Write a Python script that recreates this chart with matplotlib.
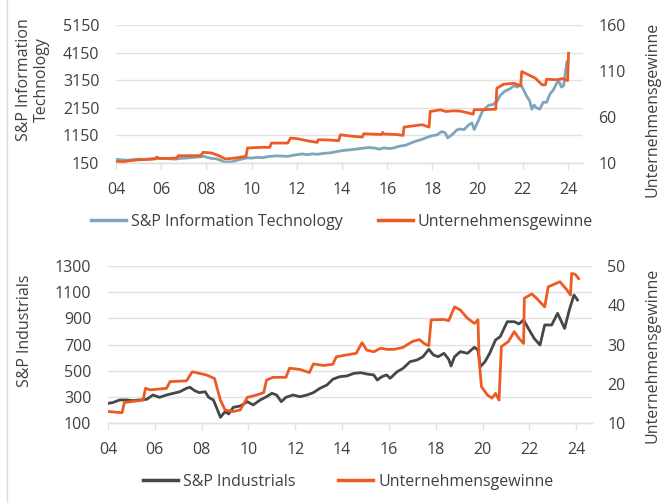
import matplotlib
matplotlib.use('Agg')
import matplotlib.pyplot as plt
from matplotlib.lines import Line2D

plt.rcParams['font.family'] = ['Open Sans', 'DejaVu Sans']

# ---------------- data ----------------
x_ticks = [2004, 2006, 2008, 2010, 2012, 2014, 2016, 2018, 2020, 2022, 2024]
x_labels = ['04', '06', '08', '10', '12', '14', '16', '18', '20', '22', '24']

it_yticks = [150, 1150, 2150, 3150, 4150, 5150]
prof1_yticks = [10, 60, 110, 160]
ind_yticks = [100, 300, 500, 700, 900, 1100, 1300]
prof2_yticks = [10, 20, 30, 40, 50]

# S&P Information Technology (left axis, top chart)
it_dates = [2004.0, 2004.25, 2004.5, 2004.75, 2005.0, 2005.25, 2005.5, 2005.75, 2006.0, 2006.35,
            2006.6, 2006.9, 2007.2, 2007.45, 2007.7, 2007.9, 2008.05, 2008.2, 2008.45, 2008.65,
            2008.8, 2009.0, 2009.15, 2009.4, 2009.6, 2009.8, 2010.0, 2010.3, 2010.5, 2010.7,
            2010.9, 2011.1, 2011.35, 2011.6, 2011.8, 2012.0, 2012.25, 2012.45, 2012.7, 2012.9,
            2013.2, 2013.5, 2013.8, 2014.1, 2014.4, 2014.7, 2014.95, 2015.2, 2015.45, 2015.65,
            2015.85, 2016.1, 2016.3, 2016.55, 2016.8, 2017.0, 2017.3, 2017.55, 2017.8, 2017.95,
            2018.2, 2018.42, 2018.57, 2018.67, 2018.86, 2019.08, 2019.23, 2019.4, 2019.6, 2019.75,
            2019.85, 2020.05, 2020.2, 2020.35, 2020.5, 2020.65, 2020.85, 2021.0, 2021.2, 2021.45,
            2021.6, 2021.75, 2021.9, 2022.0, 2022.15, 2022.3, 2022.4, 2022.5, 2022.6, 2022.75,
            2022.9, 2023.05, 2023.2, 2023.35, 2023.5, 2023.6, 2023.7, 2023.8, 2023.95]
it_values = [280, 265, 250, 270, 290, 280, 300, 315, 320, 305,
             290, 320, 335, 355, 370, 390, 350, 320, 300, 240,
             175, 185, 200, 260, 300, 335, 330, 355, 340, 380,
             395, 410, 400, 390, 425, 450, 480, 450, 480, 465,
             500, 520, 570, 610, 630, 660, 690, 710, 690, 650,
             700, 670, 700, 760, 790, 860, 950, 1010, 1090, 1130,
             1170, 1290, 1240, 1060, 1170, 1350, 1380, 1360, 1530, 1600,
             1360, 1720, 2010, 2140, 2250, 2260, 2380, 2600, 2750, 2850,
             2950, 2900, 3000, 2850, 2600, 2400, 2100, 2250, 2150, 2100,
             2350, 2350, 2650, 2800, 3050, 3100, 2900, 2950, 3820]

# Unternehmensgewinne (right axis, top chart)
prof1_dates = [2004.0, 2004.3, 2004.6, 2005.0, 2005.5, 2005.75, 2005.8, 2005.9, 2006.3, 2006.7,
               2006.75, 2007.3, 2007.75, 2007.85, 2008.2, 2008.5, 2008.85, 2009.3, 2009.75, 2009.82,
               2010.4, 2010.8, 2010.88, 2011.6, 2011.72, 2012.0, 2012.5, 2012.9, 2012.95, 2013.4,
               2013.85, 2013.93, 2014.4, 2014.9, 2014.96, 2015.5, 2015.75, 2015.8, 2015.85, 2016.4,
               2016.7, 2016.74, 2017.2, 2017.55, 2017.85, 2017.9, 2018.35, 2018.6, 2018.9, 2019.2,
               2019.5, 2019.8, 2019.85, 2020.3, 2020.8, 2020.85, 2021.15, 2021.6, 2021.9, 2021.95,
               2022.1, 2022.55, 2022.85, 2023.0, 2023.05, 2023.5, 2023.75, 2023.98, 2024.02]
prof1_values = [11.8, 11.1, 12.5, 13.5, 14.0, 14.5, 16.5, 15.0, 15.0, 15.5,
                17.9, 17.9, 18.0, 21.6, 21.0, 18.5, 14.3, 15.5, 17.2, 26.3,
                27.0, 27.0, 31.7, 31.7, 37.1, 36.5, 34.0, 32.4, 35.3, 35.0,
                34.3, 40.7, 39.2, 38.2, 41.8, 41.2, 41.0, 43.2, 41.5, 41.0,
                40.0, 49.0, 50.5, 51.6, 49.0, 66.0, 67.8, 66.0, 66.7, 66.5,
                64.9, 63.1, 68.0, 68.0, 68.5, 91.3, 95.6, 96.7, 93.8, 109.4,
                107.6, 102.2, 95.0, 95.0, 101.1, 100.4, 101.8, 99.6, 129.3]

# S&P Industrials (left axis, bottom chart)
ind_dates = [2004.0, 2004.2, 2004.5, 2004.8, 2005.07, 2005.35, 2005.65, 2005.92, 2006.2, 2006.5,
             2006.8, 2007.07, 2007.35, 2007.5, 2007.7, 2007.9, 2008.15, 2008.3, 2008.5, 2008.65,
             2008.8, 2009.0, 2009.15, 2009.35, 2009.65, 2009.95, 2010.2, 2010.5, 2010.77, 2011.0,
             2011.2, 2011.4, 2011.6, 2011.9, 2012.2, 2012.5, 2012.77, 2013.05, 2013.35, 2013.6,
             2013.9, 2014.2, 2014.5, 2014.8, 2015.05, 2015.35, 2015.5, 2015.7, 2015.9, 2016.05,
             2016.35, 2016.6, 2016.9, 2017.2, 2017.45, 2017.7, 2017.9, 2018.1, 2018.35, 2018.55,
             2018.65, 2018.8, 2019.05, 2019.35, 2019.65, 2019.8, 2019.9, 2020.1, 2020.3, 2020.55,
             2020.75, 2021.05, 2021.35, 2021.55, 2021.75, 2021.95, 2022.2, 2022.45, 2022.65, 2022.95,
             2023.2, 2023.5, 2023.7, 2023.9, 2024.05]
ind_values = [252, 258, 278, 278, 273, 278, 283, 316, 298, 316,
              329, 341, 367, 375, 349, 334, 341, 298, 278, 214,
              146, 189, 171, 222, 232, 265, 240, 278, 303, 329,
              316, 265, 298, 316, 303, 316, 334, 367, 392, 436,
              456, 461, 481, 486, 476, 469, 430, 456, 469, 443,
              494, 519, 570, 583, 608, 664, 621, 608, 634, 588,
              537, 608, 647, 634, 680, 659, 532, 570, 634, 736,
              761, 875, 875, 858, 888, 824, 748, 697, 850, 850,
              939, 824, 964, 1079, 1041]

# Unternehmensgewinne (right axis, bottom chart)
prof2_dates = [2004.0, 2004.6, 2004.7, 2005.5, 2005.6, 2005.8, 2006.5, 2006.65, 2007.35, 2007.6,
               2008.2, 2008.55, 2008.8, 2009.0, 2009.35, 2009.65, 2009.95, 2010.35, 2010.65, 2010.77,
               2011.05, 2011.6, 2011.75, 2012.2, 2012.6, 2012.77, 2013.2, 2013.6, 2013.75, 2014.2,
               2014.6, 2014.85, 2015.05, 2015.35, 2015.65, 2015.9, 2016.2, 2016.6, 2017.0, 2017.3,
               2017.5, 2017.7, 2017.8, 2018.35, 2018.55, 2018.8, 2019.05, 2019.35, 2019.65, 2019.8,
               2019.85, 2019.95, 2020.2, 2020.4, 2020.55, 2020.7, 2020.8, 2021.1, 2021.35, 2021.55,
               2021.75, 2021.78, 2022.1, 2022.3, 2022.65, 2022.8, 2023.3, 2023.6, 2023.75, 2023.8,
               2023.95, 2024.1]
prof2_values = [13.0, 12.7, 15.3, 15.9, 18.9, 18.5, 18.9, 20.6, 20.8, 23.1,
                22.3, 21.4, 15.9, 13.4, 13.0, 13.4, 16.6, 17.2, 17.8, 21.0,
                21.7, 21.7, 24.0, 23.7, 22.9, 25.1, 24.7, 25.0, 26.9, 27.4,
                27.8, 30.5, 28.6, 28.2, 29.1, 28.8, 28.8, 29.3, 30.8, 31.3,
                30.3, 29.7, 36.3, 36.4, 36.1, 39.6, 38.8, 36.7, 35.4, 36.3,
                26.1, 19.3, 17.2, 16.4, 17.6, 15.9, 29.5, 30.8, 33.3, 31.6,
                30.3, 41.8, 42.9, 41.8, 39.6, 44.7, 46.0, 43.9, 42.6, 48.1,
                47.9, 46.8]

# ---------------- style ----------------
FS = 11.5
TXT = '#404040'
GRID = '#e2e2e2'
BLUE = '#7ea6bb'
ORANGE = '#ee5a24'
DARK = '#474747'
LW = 2.0
W, H = 663, 503

fig = plt.figure(figsize=(W / 100, H / 100), dpi=100)


def style(ax, axr, xmax):
    ax.set_xlim(2004, xmax)
    ax.set_xticks(x_ticks)
    ax.set_xticklabels(x_labels)
    for a in (ax, axr):
        for s in ('top', 'left', 'right'):
            a.spines[s].set_visible(False)
        a.spines['bottom'].set_color(GRID)
        a.spines['bottom'].set_linewidth(1)
    ax.yaxis.grid(True, color=GRID, lw=1)
    ax.set_axisbelow(True)
    ax.tick_params(axis='x', length=5, width=1, color=GRID, pad=8.5,
                   labelsize=FS, labelcolor=TXT)
    ax.tick_params(axis='y', length=0, pad=12, labelsize=FS, labelcolor=TXT)
    axr.tick_params(axis='y', length=0, pad=11, labelsize=FS, labelcolor=TXT)


# Top chart
ax1 = fig.add_axes([116 / W, 1 - 163 / H, 467 / W, 138 / H])
ax1r = ax1.twinx()
ax1.plot(it_dates, it_values, color=BLUE, lw=LW, solid_joinstyle='round')
ax1r.plot(prof1_dates, prof1_values, color=ORANGE, lw=LW, solid_joinstyle='round')
ax1.set_ylim(150, 5150)
ax1.set_yticks(it_yticks)
ax1r.set_ylim(10, 160)
ax1r.set_yticks(prof1_yticks)
style(ax1, ax1r, 2024.66)

# Bottom chart
ax2 = fig.add_axes([108 / W, 1 - 423.3 / H, 484 / W, 157.3 / H])
ax2r = ax2.twinx()
ax2.plot(ind_dates, ind_values, color=DARK, lw=LW, solid_joinstyle='round')
ax2r.plot(prof2_dates, prof2_values, color=ORANGE, lw=LW, solid_joinstyle='round')
ax2.set_ylim(100, 1300)
ax2.set_yticks(ind_yticks)
ax2r.set_ylim(10, 50)
ax2r.set_yticks(prof2_yticks)
style(ax2, ax2r, 2024.67)

# Axis titles
fig.text(33 / W, 1 - 80 / H, 'S&P Information\nTechnology', rotation=90, ha='center',
         va='center', multialignment='center', fontsize=FS, color=TXT, linespacing=1.15)
fig.text(653 / W, 1 - 109 / H, 'Unternehmensgewinne', rotation=90, ha='center',
         va='center', fontsize=FS, color=TXT)
fig.text(25 / W, 1 - 331 / H, 'S&P Industrials', rotation=90, ha='center',
         va='center', fontsize=FS, color=TXT)
fig.text(653 / W, 1 - 355 / H, 'Unternehmensgewinne', rotation=90, ha='center',
         va='center', fontsize=FS, color=TXT)

# Legends
h1 = [Line2D([], [], color=BLUE, lw=2.5), Line2D([], [], color=ORANGE, lw=2.5)]
fig.legend(h1, ['S&P Information Technology', 'Unternehmensgewinne'], loc='center',
           bbox_to_anchor=(342 / W, 1 - 222 / H), ncol=2, frameon=False, fontsize=FS,
           labelcolor=TXT, handlelength=2.2, handletextpad=0.3, columnspacing=2.2)
h2 = [Line2D([], [], color=DARK, lw=2.5), Line2D([], [], color=ORANGE, lw=2.5)]
fig.legend(h2, ['S&P Industrials', 'Unternehmensgewinne'], loc='center',
           bbox_to_anchor=(348 / W, 1 - 482 / H), ncol=2, frameon=False, fontsize=FS,
           labelcolor=TXT, handlelength=2.2, handletextpad=0.3, columnspacing=2.7)

# left border line
fig.add_artist(Line2D([7 / W, 7 / W], [0, 1], color='#dcdcdc', lw=1))

fig.savefig('out.png', dpi=100)
